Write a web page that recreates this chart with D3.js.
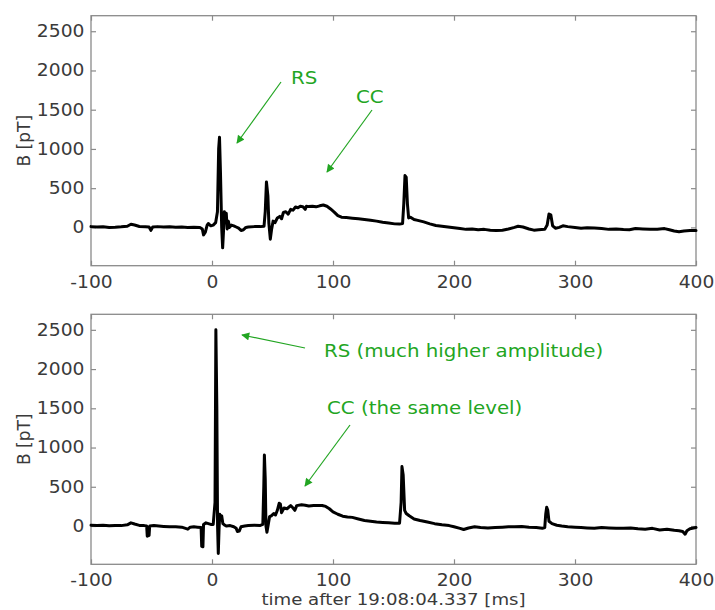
<!DOCTYPE html>
<html>
<head>
<meta charset="utf-8">
<script src="https://cdn.jsdelivr.net/npm/d3@7"></script>
<style>
html,body{margin:0;padding:0;background:#fff;}
svg{display:block;}
</style>
</head>
<body>
<svg id="chart" width="715" height="610"></svg>
<script>
// ---------------- data ----------------
const xTicks = [-100, 0, 100, 200, 300, 400];
const yTicks = [0, 500, 1000, 1500, 2000, 2500];
const xLabel = "time after 19:08:04.337 [ms]";
const yLabel = "B [pT]";

// panel 1 (top): time [ms], B [pT]
const topTime = [-100,-95,-90,-85,-80,-75,-70,-67,-64,-60,-55,-52,-50.5,-49,-45,-40,-35,-30,-25,-20,-15,-10,-8,-7,-5.5,-4,-3,-1,1,3,4.5,5.5,6.2,7,8,8.8,9.5,10.2,11,11.8,12.5,13.5,14.5,16,18,20,22,24,26,28,30,35,40,43,44,45,46.2,47,48.2,49.2,50.5,52,54,56,57.5,59,61,63,65,67,69,71,73,75,77,78,80,83,86,89,92,95,98,101,104,107,111,116,121,126,131,136,141,146,151,155,157.5,158.5,159.5,160.5,161.5,162.5,164,167,170,175,180,185,190,195,200,205,210,215,220,225,230,235,240,245,250,253,257,262,266,270,275,277,278.5,280,281.5,284,287,290,294,300,305,310,316,322,328,334,340,345,350,356,362,368,374,378,382,386,390,395,400];
const topB = [10,5,8,0,3,8,15,40,30,12,8,5,-38,5,10,5,8,2,5,0,3,0,-20,-95,-60,30,50,20,30,60,200,1000,1150,700,0,-260,-50,200,60,180,-20,80,0,30,20,5,-10,-40,-30,0,5,10,10,15,200,580,400,50,-150,-30,80,60,120,140,110,190,200,170,230,220,260,250,270,265,230,270,265,270,262,275,285,270,235,195,150,130,125,118,110,100,90,80,65,55,45,42,50,300,660,640,300,120,130,100,90,70,45,25,15,5,-5,-15,-25,-20,-30,-25,-35,-40,-35,-20,0,15,5,-20,-35,-30,-25,30,170,160,20,-10,0,20,10,0,-10,-5,-8,-15,-25,-20,-28,-30,-15,-20,-25,-22,-15,-30,-45,-55,-45,-40,-40];

// panel 2 (bottom)
const botTime = [-100,-95,-90,-85,-80,-75,-70,-67,-64,-60,-56,-54,-53.5,-52,-51.5,-48,-44,-40,-35,-30,-25,-20,-18,-15,-12,-9,-8.5,-7.5,-7,-5,-3,-1,1,2.5,3.2,4,4.6,5.2,5.8,6.4,7.2,8,9,10.5,12,15,18,20,21,22.5,24,27,30,35,40,42,42.8,43.3,44,44.6,45.4,46.5,47.6,49,51,52.5,54,55.5,56.5,57.5,59.5,62,65,67,68.5,70,74,77,80,84,88,91,94,97,100,104,108,112,116,121,126,131,136,141,146,151,155,156.3,157,158,159.2,160.5,163,167,172,178,184,190,196,200,205,208,212,217,222,228,234,240,245,250,256,262,268,273,275,275.8,276.6,277.5,278.5,281,285,289,294,300,305,310,316,322,328,334,340,346,352,358,364,370,376,382,386,389,391,392.5,395,400];
const botB = [10,5,10,3,8,5,15,40,25,8,5,0,-130,-120,0,5,0,-5,-10,-8,-15,-40,-15,-10,-15,-20,-260,-265,20,40,30,20,20,300,2500,1500,0,-350,-50,150,100,130,30,10,0,5,-10,-30,-70,-65,-10,0,5,10,8,20,500,905,600,0,-80,20,120,130,160,140,200,290,280,170,230,220,260,230,200,260,270,265,255,260,260,262,250,220,180,150,125,115,110,90,70,60,50,45,40,35,35,300,757,650,200,160,130,90,70,50,30,15,5,-10,-30,-45,-25,-10,-20,-25,-20,-15,-10,-8,-5,-15,-20,-30,-20,150,240,200,60,30,10,0,-10,-15,-20,-25,-30,-20,-25,-30,-30,-25,-35,-40,-30,-50,-40,-55,-60,-70,-105,-60,-35,-20];

const notesTop = [
  {text: "RS", tx: 291, ty: 84, x1: 281, y1: 82, x2: 237, y2: 143},
  {text: "CC", tx: 356, ty: 103, x1: 372, y1: 110, x2: 327, y2: 172}
];
const notesBot = [
  {text: "RS (much higher amplitude)", tx: 324, ty: 357, x1: 305, y1: 348, x2: 242, y2: 335},
  {text: "CC (the same level)", tx: 327, ty: 414, x1: 350, y1: 425, x2: 305, y2: 486}
];

// ---------------- drawing ----------------
const svg = d3.select("#chart");
const FONT = "DejaVu Sans, Verdana, sans-serif";
const SX = 1.1;           // horizontal stretch of the reference text
const GREEN = "#22a522";
const FRAME = "#8a8a8a";
const TXT = "#3a3a3a";

const left = 91, right = 696;
const x = d3.scaleLinear().domain([-100, 400]).range([left, right]);

svg.append("defs").append("marker")
  .attr("id", "ah").attr("viewBox", "0 0 10 10")
  .attr("refX", 9).attr("refY", 5)
  .attr("markerWidth", 10).attr("markerHeight", 8)
  .attr("markerUnits", "userSpaceOnUse")
  .attr("orient", "auto")
  .append("path").attr("d", "M0,0 L10,5 L0,10 Z").attr("fill", GREEN);

function panel(top, bottom, times, values, notes, showXLabel) {
  const y = d3.scaleLinear().domain([-488, 2698]).range([bottom, top]);
  const g = svg.append("g");

  // axes (inward ticks)
  const ax = g.append("g").attr("transform", `translate(0,${bottom})`)
    .call(d3.axisBottom(x).tickValues(xTicks).tickSize(-5).tickPadding(10).tickFormat(d3.format("d")));
  const ay = g.append("g").attr("transform", `translate(${left},0)`)
    .call(d3.axisLeft(y).tickValues(yTicks).tickSize(-5).tickPadding(6).tickFormat(d3.format("d")));
  const at = g.append("g").attr("transform", `translate(0,${top})`)
    .call(d3.axisTop(x).tickValues(xTicks).tickSize(-5).tickFormat(""));
  const ar = g.append("g").attr("transform", `translate(${right},0)`)
    .call(d3.axisRight(y).tickValues(yTicks).tickSize(-5).tickFormat(""));
  [ax, ay, at, ar].forEach(a => {
    a.select(".domain").remove();
    a.selectAll("line").attr("stroke", FRAME).attr("stroke-width", 1.2);
    a.selectAll("text").attr("font-family", FONT).attr("font-size", 17)
      .attr("fill", TXT).attr("transform", `scale(${SX},1)`);
  });
  ax.selectAll("text").text(d => d < 0 ? "-" + Math.abs(d) : d);

  // frame
  g.append("rect").attr("x", left).attr("y", top)
    .attr("width", right - left).attr("height", bottom - top)
    .attr("fill", "none").attr("stroke", FRAME).attr("stroke-width", 1.3);

  // signal
  const pts = times.map((t, i) => [t, values[i]]);
  g.append("path").datum(pts)
    .attr("fill", "none").attr("stroke", "#000").attr("stroke-width", 3)
    .attr("stroke-linejoin", "round").attr("stroke-linecap", "round")
    .attr("d", d3.line().x(d => x(d[0])).y(d => y(d[1])));

  // y label
  g.append("text")
    .attr("transform", `translate(30,${(top + bottom) / 2}) rotate(-90)`)
    .attr("text-anchor", "middle").attr("font-family", FONT).attr("font-size", 17)
    .attr("fill", TXT).text(yLabel);

  // annotations
  notes.forEach(n => {
    g.append("line").attr("x1", n.x1).attr("y1", n.y1).attr("x2", n.x2).attr("y2", n.y2)
      .attr("stroke", GREEN).attr("stroke-width", 1.2).attr("marker-end", "url(#ah)");
    g.append("text").attr("transform", `translate(${n.tx},${n.ty}) scale(${SX},1)`)
      .attr("font-family", FONT).attr("font-size", 18).attr("fill", GREEN).text(n.text);
  });

  if (showXLabel) {
    g.append("text").attr("transform", `translate(${(left + right) / 2},605) scale(${SX},1)`)
      .attr("text-anchor", "middle").attr("font-family", FONT).attr("font-size", 16.5)
      .attr("fill", TXT).text(xLabel);
  }
}

panel(15.7, 265.7, topTime, topB, notesTop, false);
panel(314.3, 564.3, botTime, botB, notesBot, true);
</script>
</body>
</html>
